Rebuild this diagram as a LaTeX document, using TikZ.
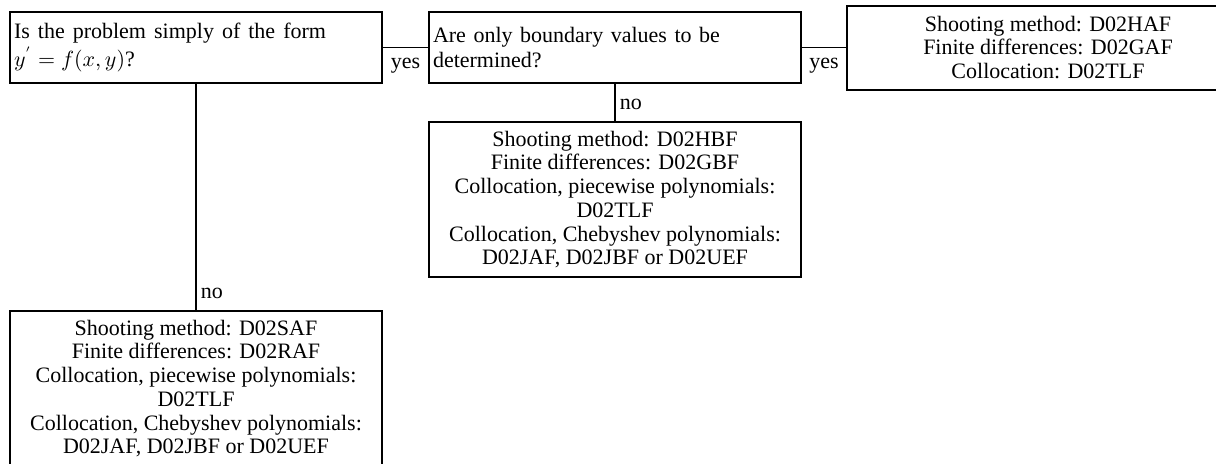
\documentclass[tikz,border=0pt]{standalone}
\usepackage[no-math]{fontspec}
\setmainfont{Liberation Serif}
\usepackage{amsmath}
\usepackage{tikz}
\newcommand{\spreadline}[2]{\makebox[#1][s]{\spaceskip=.25em plus 1fil\relax #2}}
\tikzstyle{box}=[draw, rectangle, line width=1pt, inner xsep=2pt, inner ysep=3pt]
\tikzstyle{question}=[box, align=left, text width=182pt, minimum height=35.5pt]
\tikzstyle{answer}=[box, align=center, minimum width=186pt, minimum height=77.5pt]
\tikzstyle{link}=[line width=0.8pt]
\tikzstyle{reply}=[below, yshift=-3pt, inner sep=2pt]
\tikzstyle{noreply}=[at end, right, yshift=8.5pt, inner sep=2pt]

\begin{document}
\begin{tikzpicture}[x=0.5pt, y=-0.5pt, every node/.style={font=\fontsize{11}{11.85}\selectfont}]
        \useasboundingbox (0,0) rectangle (1216,463);

        % The two questions, side by side on the top row
        \node[question] (simple) at (196,47.5) {\spreadline{156pt}{Is the problem simply of the form}\\[1pt]$y^{'}=f(x,y)$?};
        \node[question] (bvonly) at (615,47.5) {\spreadline{143.5pt}{Are only boundary values to be}\\[1pt]determined?};

        % Answers
        \node[answer, minimum width=201pt, minimum height=42pt] (bvp) at (1048,47.5)
            {Shooting method: D02HAF\\Finite differences: D02GAF\\Collocation: D02TLF};
        \node[answer] (bvgen) at (615,199.5)
            {Shooting method: D02HBF\\Finite differences: D02GBF\\Collocation, piecewise polynomials:\\D02TLF\\Collocation, Chebyshev polynomials:\\D02JAF, D02JBF or D02UEF};
        \node[answer] (general) at (196,388.5)
            {Shooting method: D02SAF\\Finite differences: D02RAF\\Collocation, piecewise polynomials:\\D02TLF\\Collocation, Chebyshev polynomials:\\D02JAF, D02JBF or D02UEF};

        % Branches
        \draw[link] (simple) -- node[reply] {yes} (bvonly);
        \draw[link] (bvonly) -- node[reply] {yes} (bvp);
        \draw[link] (bvonly) -- node[noreply] {no} (bvgen);
        \draw[link] (simple) -- node[noreply] {no} (general);
    \end{tikzpicture}
\end{document}
